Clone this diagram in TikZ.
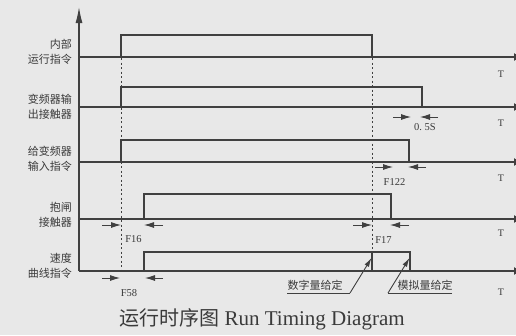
\documentclass[tikz,border=0pt]{standalone}
\usepackage{fontspec}
\setmainfont{Liberation Serif}
\newfontfamily\cjk{Noto Sans CJK SC}
\usetikzlibrary{arrows.meta}
\definecolor{bg}{HTML}{E8E8E8}
\definecolor{lc}{HTML}{404040}
\definecolor{tc}{HTML}{3A3A3A}
\tikzset{
  sig/.style={draw=lc, line width=1.2pt, line join=miter},
  axisline/.style={draw=lc, line width=1.2pt, -{Latex[length=8pt,width=8pt]}},
  vaxis/.style={draw=lc, line width=1.2pt, -{Latex[length=16pt,width=7pt]}},
  guide/.style={draw=lc, line width=1pt, dash pattern=on 2pt off 2.5pt},
  dimarr/.style={draw=lc, line width=0.9pt, -{Latex[length=10pt,width=6pt]}},
  rowlab/.style={anchor=east, align=right, font=\cjk\fontsize{11}{15}\selectfont, text=tc, inner sep=0pt},
  flab/.style={font=\fontsize{10.5}{12}\selectfont, text=tc, inner sep=0pt},
  tlab/.style={font=\fontsize{10}{12}\selectfont, text=tc, inner sep=0pt},
  annlab/.style={font=\cjk\fontsize{11}{13}\selectfont, text=tc, inner sep=0pt},
  annarr/.style={draw=lc, line width=0.9pt, -{Latex[length=9pt,width=5pt]}},
}
\begin{document}
\begin{tikzpicture}[x=1pt,y=-1pt]
\fill[bg] (0,0) rectangle (516,335);
\useasboundingbox (0,0) rectangle (516,335);

% vertical axis
\coordinate (axb) at (79,271);
\coordinate (axt) at (79,7);
\draw[vaxis] (axb) -- (axt);

% baselines with arrows
\foreach \y/\n in {57/a,107/b,162/c,219/d,271/e}{
  \coordinate (s\n) at (79,\y);
  \coordinate (e\n) at (522,\y);
  \draw[axisline] (s\n) -- (e\n);
}

% row labels
\node[rowlab] (l1) at (72,51.5) {内部\\运行指令};
\node[rowlab] (l2) at (72,106.5) {变频器输\\出接触器};
\node[rowlab] (l3) at (72,159) {给变频器\\输入指令};
\node[rowlab] (l4) at (72,214.5) {抱闸\\接触器};
\node[rowlab] (l5) at (72,266) {速度\\曲线指令};

% pulses
\draw[sig] (121,57) -- (121,35) -- (372,35) -- (372,57);
\draw[sig] (121,107) -- (121,87) -- (422,87) -- (422,107);
\draw[sig] (121,162) -- (121,140) -- (409,140) -- (409,162);
\draw[sig] (144,219) -- (144,194) -- (391,194) -- (391,219);
\draw[sig] (144,271) -- (144,252) -- (410,252) -- (410,271);
\draw[sig] (372,252) -- (372,271);

% dotted guides
\coordinate (g1t) at (121,58);
\coordinate (g1b) at (121,272);
\coordinate (g2t) at (372,58);
\coordinate (g2b) at (372,252);
\draw[guide] (g1t) -- (g1b);
\draw[guide] (g2t) -- (g2b);

% T labels
\foreach \y/\n in {74/1,123/2,178/3,233/4,292/5}{
  \node[tlab] (t\n) at (501,\y) {T};
}

% dimension arrows
\draw[dimarr] (393,117) -- (411,117);
\draw[dimarr] (438,117) -- (420,117);
\node[flab] (d05) at (425,127) {0.\ 5S};

\draw[dimarr] (375,167) -- (393,167);
\draw[dimarr] (426,167) -- (408,167);
\node[flab] (f122) at (394.5,182) {F122};

\draw[dimarr] (102,225) -- (121,225);
\draw[dimarr] (163,225) -- (144,225);
\node[flab] (f16) at (133.5,239) {F16};

\draw[dimarr] (353,225) -- (372,225);
\draw[dimarr] (409,225) -- (390,225);
\node[flab] (f17) at (383.5,240) {F17};

\draw[dimarr] (102,278) -- (120,278);
\draw[dimarr] (163,278) -- (145,278);
\node[flab] (f58) at (129,293) {F58};

% annotations
\node[annlab] (num) at (315,285) {数字量给定};
\node[annlab] (ana) at (425,285) {模拟量给定};
\coordinate (n1) at (287,293);
\coordinate (n2) at (350,293);
\coordinate (n3) at (371.5,258);
\coordinate (m1) at (452,293);
\coordinate (m2) at (388,293);
\coordinate (m3) at (409.5,258);
\draw[draw=lc, line width=0.9pt] (n1) -- (n2);
\draw[annarr] (n2) -- (n3);
\draw[draw=lc, line width=0.9pt] (m1) -- (m2);
\draw[annarr] (m2) -- (m3);

% caption
\node[text=tc, inner sep=0pt] (cap) at (262,319) {{\cjk\fontsize{20}{24}\selectfont 运行时序图}\fontsize{21}{24}\selectfont\ Run Timing Diagram};
\end{tikzpicture}
\end{document}
